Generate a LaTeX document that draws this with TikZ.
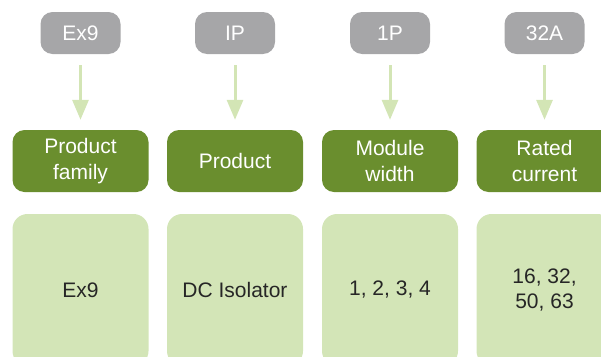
\documentclass[tikz,border=0pt]{standalone}
\usepackage{fontspec}
\setmainfont{Liberation Sans}
\usetikzlibrary{arrows.meta}
\definecolor{codegrey}{HTML}{A6A6A8}
\definecolor{darkgreen}{HTML}{6A8E2E}
\definecolor{lightgreen}{HTML}{D3E5B7}
\definecolor{arrowgreen}{HTML}{D3E5B5}
\definecolor{darktext}{HTML}{262626}
\tikzset{
  codebox/.style={fill=codegrey, rounded corners=12pt, minimum width=80pt, minimum height=42pt,
    text=white, font=\fontsize{21}{25.5}\selectfont, inner sep=0pt, align=center},
  headbox/.style={fill=darkgreen, rounded corners=12pt, minimum width=136pt, minimum height=62pt,
    text=white, font=\fontsize{21}{25.5}\selectfont, inner sep=0pt, align=center},
  valbox/.style={fill=lightgreen, rounded corners=15pt, minimum width=136pt, minimum height=152pt,
    text=darktext, font=\fontsize{21}{25.5}\selectfont, inner sep=0pt, align=center},
  downarrow/.style={draw=arrowgreen, line width=3pt, -{Triangle[width=16pt,length=20pt]},
    shorten <=11pt, shorten >=10pt}
}
\begin{document}
\begin{tikzpicture}[x=1pt,y=-1pt]
\useasboundingbox (0,0) rectangle (601,356);
\clip (0,0) rectangle (601,356);
\foreach \i/\cx/\code/\head/\val in {
  1/80.5/Ex9/{Product\\family}/Ex9,
  2/235/IP/Product/DC Isolator,
  3/390/1P/{Module\\width}/{1, 2, 3, 4},
  4/544.5/32A/{Rated\\current}/{16, 32,\\50, 63}}{
  \node[codebox] (c\i) at (\cx,33) {\code};
  \node[headbox] (h\i) at (\cx,161) {\head};
  \node[valbox] (v\i) at (\cx,290) {\val};
  \draw[downarrow] (c\i.south) -- (h\i.north);
}
\end{tikzpicture}
\end{document}
